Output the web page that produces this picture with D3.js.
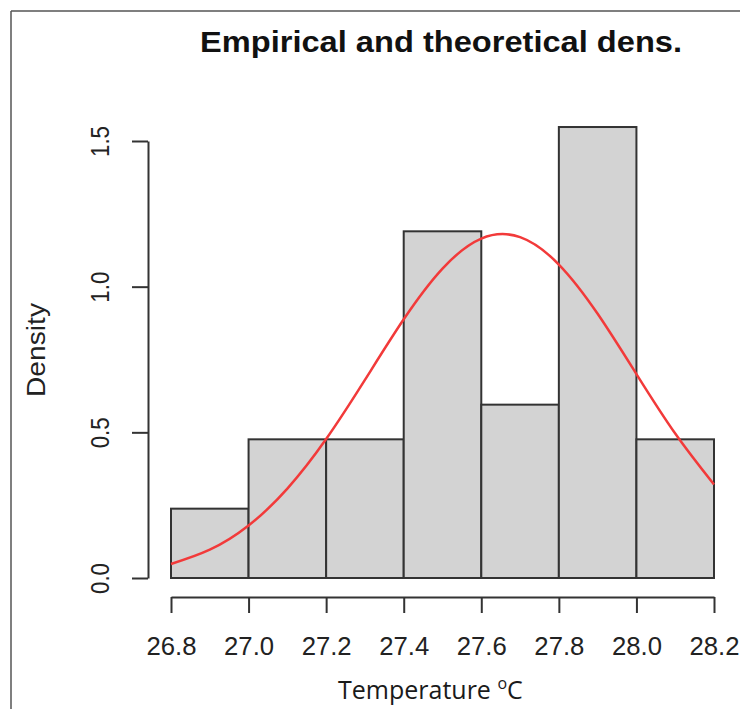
<!DOCTYPE html>
<html>
<head>
<meta charset="utf-8">
<script src="https://cdn.jsdelivr.net/npm/d3@7"></script>
<style>
  html, body { margin: 0; padding: 0; background: #fff; }
  svg { display: block; }
</style>
</head>
<body>
<svg id="chart" width="740" height="709"></svg>
<script>
// Histogram bins (break points) and their densities
const binEdges = [26.8, 27.0, 27.2, 27.4, 27.6, 27.8, 28.0, 28.2];
const binDensity = [0.238, 0.476, 0.476, 1.190, 0.595, 1.548, 0.476];

// Fitted normal density, sampled along the temperature range
const curveX = [26.8, 26.9, 27.0, 27.1, 27.2, 27.3, 27.4, 27.5, 27.6, 27.7, 27.8, 27.9, 28.0, 28.1, 28.2];
const curveY = [0.048, 0.097, 0.180, 0.307, 0.477, 0.680, 0.888, 1.062, 1.165, 1.170, 1.076, 0.907, 0.700, 0.496, 0.321];

// Axis ticks
const xTicks = [26.8, 27.0, 27.2, 27.4, 27.6, 27.8, 28.0, 28.2];
const yTicks = [0.0, 0.5, 1.0, 1.5];

const svg = d3.select("#chart");
const sans = "'Liberation Sans', Arial, Helvetica, sans-serif";

// Frame lines
svg.append("line").attr("x1", 11).attr("y1", 11).attr("x2", 11).attr("y2", 709)
  .attr("stroke", "#555").attr("stroke-width", 1.5);
svg.append("line").attr("x1", 11).attr("y1", 11).attr("x2", 740).attr("y2", 11)
  .attr("stroke", "#555").attr("stroke-width", 1.5);

const x = d3.scaleLinear().domain([26.8, 28.2]).range([171, 714]);
const y = d3.scaleLinear().domain([0, 1.5]).range([578, 141]);

// Bars
const bins = binDensity.map((d, i) => ({ x0: binEdges[i], x1: binEdges[i + 1], d }));
svg.append("g").selectAll("rect").data(bins).join("rect")
  .attr("x", b => x(b.x0))
  .attr("y", b => y(b.d))
  .attr("width", b => x(b.x1) - x(b.x0))
  .attr("height", b => y(0) - y(b.d))
  .attr("fill", "#d3d3d3")
  .attr("stroke", "#333")
  .attr("stroke-width", 2);

// Theoretical density curve
const line = d3.line()
  .x((d, i) => x(curveX[i]))
  .y(d => y(d))
  .curve(d3.curveNatural);
svg.append("path").datum(curveY)
  .attr("d", line)
  .attr("fill", "none")
  .attr("stroke", "#f23a3a")
  .attr("stroke-width", 2.5);

// X axis
const gx = svg.append("g").attr("transform", "translate(0,597)")
  .call(d3.axisBottom(x).tickValues(xTicks).tickFormat(d3.format(".1f"))
    .tickSize(16).tickSizeOuter(0).tickPadding(24));
gx.selectAll("path, line").attr("stroke", "#333").attr("stroke-width", 2);
gx.selectAll("text")
  .attr("fill", "#222")
  .style("font-family", sans)
  .style("font-size", "26px")
  .attr("textLength", 50)
  .attr("lengthAdjust", "spacingAndGlyphs");

// Y axis
const gy = svg.append("g").attr("transform", "translate(148,0)")
  .call(d3.axisLeft(y).tickValues(yTicks).tickFormat(d3.format(".1f"))
    .tickSize(16).tickSizeOuter(0));
gy.selectAll("path, line").attr("stroke", "#333").attr("stroke-width", 2);
gy.selectAll("text")
  .attr("x", null).attr("dy", null)
  .attr("transform", "translate(-39,0) rotate(-90)")
  .attr("text-anchor", "middle")
  .attr("fill", "#222")
  .style("font-family", sans)
  .style("font-size", "26px")
  .attr("textLength", 31)
  .attr("lengthAdjust", "spacingAndGlyphs");

// Title
svg.append("text")
  .attr("x", 441).attr("y", 52)
  .attr("text-anchor", "middle")
  .style("font-family", sans)
  .style("font-weight", "bold")
  .style("font-size", "29px")
  .attr("fill", "#111")
  .attr("textLength", 482)
  .attr("lengthAdjust", "spacingAndGlyphs")
  .text("Empirical and theoretical dens.");

// Y axis title
svg.append("text")
  .attr("transform", "translate(45,350) rotate(-90)")
  .attr("text-anchor", "middle")
  .style("font-family", sans)
  .style("font-size", "26px")
  .attr("fill", "#222")
  .attr("textLength", 94)
  .attr("lengthAdjust", "spacingAndGlyphs")
  .text("Density");

// X axis title with superscript degree mark
const xt = svg.append("text")
  .attr("x", 338).attr("y", 699)
  .style("font-family", "'Open Sans', 'Noto Sans', sans-serif")
  .style("font-size", "25px")
  .attr("fill", "#1a1a1a");
xt.append("tspan").text("Temperature ");
xt.append("tspan").attr("dy", -10).style("font-size", "16px").text("o");
xt.append("tspan").attr("dy", 10).text("C");
</script>
</body>
</html>
